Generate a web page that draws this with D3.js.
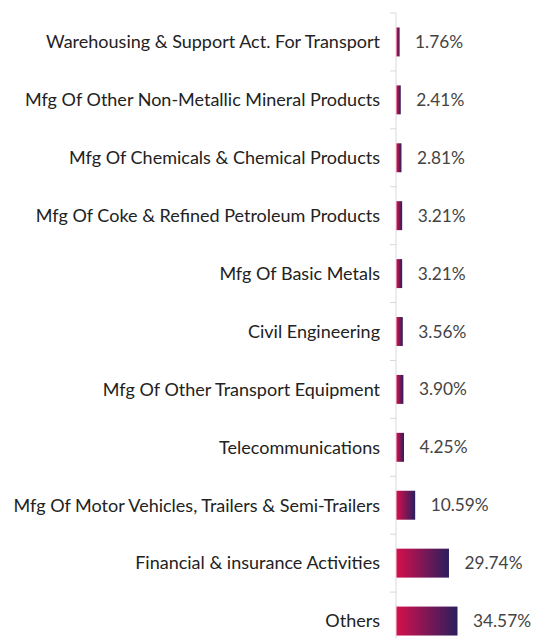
<!DOCTYPE html>
<html>
<head>
<meta charset="utf-8">
<script src="https://cdn.jsdelivr.net/npm/d3@7"></script>
<style>
body { margin: 0; background: #fff; }
text { font-family: Lato, "Open Sans", sans-serif; }
</style>
</head>
<body>
<script>
const w = 533;
const h = 638;

const categories = [
  "Warehousing & Support Act. For Transport",
  "Mfg Of Other Non-Metallic Mineral Products",
  "Mfg Of Chemicals & Chemical Products",
  "Mfg Of Coke & Refined Petroleum Products",
  "Mfg Of Basic Metals",
  "Civil Engineering",
  "Mfg Of Other Transport Equipment",
  "Telecommunications",
  "Mfg Of Motor Vehicles, Trailers & Semi-Trailers",
  "Financial & insurance Activities",
  "Others"
];
const values = [1.76, 2.41, 2.81, 3.21, 3.21, 3.56, 3.90, 4.25, 10.59, 29.74, 34.57];

const axisX = 396;

const yScale = d3.scaleBand()
  .domain(categories)
  .range([13, 650])
  .paddingInner(0.5)
  .paddingOuter(0.25);

const xScale = d3.scaleLinear()
  .domain([0, 34.57])
  .range([0, 61]);

const svg = d3.select("body")
  .append("svg")
  .attr("width", w)
  .attr("height", h);

const grad = svg.append("defs")
  .append("linearGradient")
  .attr("id", "barGrad")
  .attr("x1", "0%").attr("x2", "100%")
  .attr("y1", "0%").attr("y2", "0%");
grad.append("stop").attr("offset", "0%").attr("stop-color", "#d4104c");
grad.append("stop").attr("offset", "100%").attr("stop-color", "#2b1e5e");

// axis line + ticks between bands
const step = yScale.step();
const bounds = d3.range(categories.length + 1).map(i => 13 + i * step);

svg.append("line")
  .attr("x1", axisX).attr("x2", axisX)
  .attr("y1", 13).attr("y2", h)
  .attr("stroke", "#d9d9d9")
  .attr("stroke-width", 1);

svg.selectAll(".tick")
  .data(bounds)
  .enter()
  .append("line")
  .attr("class", "tick")
  .attr("x1", axisX - 6).attr("x2", axisX)
  .attr("y1", d => d).attr("y2", d => d)
  .attr("stroke", "#d9d9d9");

svg.selectAll("rect.bar")
  .data(values)
  .enter()
  .append("rect")
  .attr("class", "bar")
  .attr("x", axisX + 0.5)
  .attr("y", (d, i) => yScale(categories[i]))
  .attr("width", d => xScale(d))
  .attr("height", yScale.bandwidth())
  .attr("fill", "url(#barGrad)");

svg.selectAll("text.cat")
  .data(categories)
  .enter()
  .append("text")
  .attr("class", "cat")
  .attr("x", 380)
  .attr("y", d => yScale(d) + yScale.bandwidth() / 2)
  .attr("dy", "0.35em")
  .attr("text-anchor", "end")
  .attr("font-size", 18)
  .attr("fill", "#222")
  .text(d => d);

svg.selectAll("text.val")
  .data(values)
  .enter()
  .append("text")
  .attr("class", "val")
  .attr("x", d => axisX + xScale(d) + 16)
  .attr("y", (d, i) => yScale(categories[i]) + yScale.bandwidth() / 2)
  .attr("dy", "0.35em")
  .attr("font-size", 17.3)
  .attr("fill", "#444")
  .text(d => d.toFixed(2) + "%");
</script>
</body>
</html>
